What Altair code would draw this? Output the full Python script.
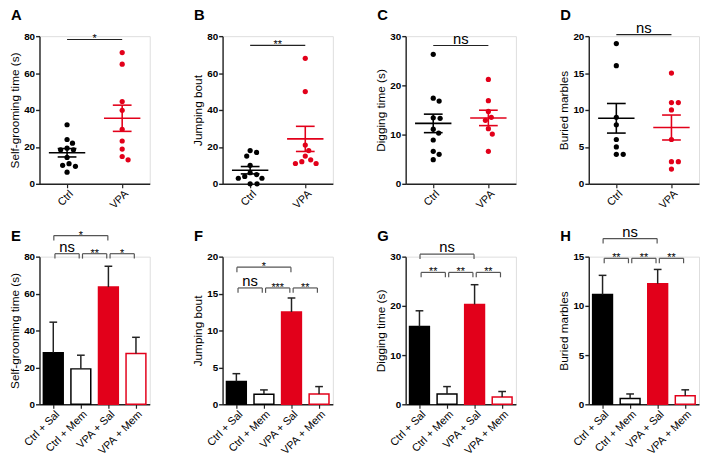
import json
import altair as alt
import pandas as pd

FONT = "Liberation Sans"
RED = "#E2001A"
INK = "#222222"
BRACKET = "#555555"

# ---------------- data ----------------
dot_groups = ["Ctrl", "VPA"]
bar_groups = ["Ctrl + Sal", "Ctrl + Mem", "VPA + Sal", "VPA + Mem"]

# A: self-grooming time (s)
a_ctrl = [32, 24, 22, 19.3, 18.4, 18.4, 14.3, 10.9, 10, 9.5, 6.3]
a_vpa = [71.1, 64.8, 44.6, 39.8, 29.5, 23.2, 18.8, 14.8, 13]
# B: jumping bout
b_ctrl = [18, 17, 15, 10, 6, 5, 4, 3, 3, 0, 0]
b_vpa = [68, 50, 21, 18, 15, 13, 12, 11, 11]
# C: digging time (s)
c_ctrl = [26.3, 17.4, 16.8, 13.4, 13.3, 11.1, 10.3, 8.9, 6.6, 6.0, 4.9]
c_vpa = [21.2, 16.9, 14.7, 13.5, 12.9, 11.2, 10.1, 6.6]
# D: buried marbles
d_ctrl = [19, 16, 9, 8, 6, 5, 4, 4]
d_vpa = [15, 11, 11, 10, 6, 3, 3, 2]

# E-H: mean and SEM per group
e_mean = [28.0, 19.2, 63.5, 27.5]
e_sem = [16.5, 7.4, 11.3, 8.8]
f_mean = [3.1, 1.35, 12.5, 1.4]
f_sem = [1.05, 0.6, 1.9, 1.0]
g_mean = [15.8, 2.1, 20.3, 1.5]
g_sem = [3.2, 1.5, 4.0, 1.1]
h_mean = [11.15, 0.6, 12.25, 0.87]
h_sem = [1.95, 0.45, 1.45, 0.6]

# significance labels: top bracket (0 vs 2), then 0-1, 1-2, 2-3
e_sig = ["*", "ns", "**", "*"]
f_sig = ["*", "ns", "***", "**"]
g_sig = ["ns", "**", "**", "**"]
h_sig = ["ns", "**", "**", "**"]
# bracket heights (upper, lower) in data units
e_bh = [91.4, 81.6]
f_bh = [18.57, 15.76]
g_bh = [30.5, 26.8]
h_bh = [16.84, 14.83]

# y tick values
ticks_80 = [0, 20, 40, 60, 80]
ticks_30 = [0, 10, 20, 30]
ticks_20 = [0, 5, 10, 15, 20]
ticks_15 = [0, 5, 10, 15]

PLOT_W = 112
PLOT_H = 150


def swarm(values, ymax, px_per_unit, diam=6.6):
    """Simple beeswarm layout: horizontal offsets (in x units) avoiding overlap."""
    py = [v * PLOT_H / ymax for v in values]
    order = sorted(range(len(values)), key=lambda k: -values[k])
    placed = []
    res = [0.0] * len(values)
    cands = sorted([c * 0.5 for c in range(-50, 51)], key=lambda c: (abs(c), -c))
    for k in order:
        chosen = 0.0
        for c in cands:
            if all((c - x) ** 2 + (py[k] - y) ** 2 >= diam ** 2 for x, y in placed):
                chosen = c
                break
        placed.append((chosen, py[k]))
        res[k] = chosen / px_per_unit
    return res


def y_axis(values, title):
    return alt.Axis(values=values, title=title, grid=False, domainColor=INK, domainWidth=1.4,
                    tickColor=INK, tickWidth=1.4, tickSize=4, labelFont=FONT, labelFontSize=10,
                    labelFontWeight="bold", labelColor="black", labelPadding=1,
                    titleFont=FONT, titleFontSize=12, titleFontWeight="normal",
                    titleColor="black", titlePadding=2)


def x_axis(names):
    return alt.Axis(values=list(range(len(names))),
                    labelExpr=json.dumps(names).replace('"', "'") + "[datum.value]",
                    title=None, grid=False, domainColor=INK, domainWidth=1.4, tickColor=INK,
                    tickWidth=1.2, tickSize=4, labelAngle=-45, labelAlign="right",
                    labelBaseline="top", labelFont=FONT, labelFontSize=11, labelOverlap=False,
                    labelColor="black", labelPadding=0)


def letter_layer(l):
    # panel letter, placed just outside the top-left corner of the plot area
    return alt.Chart(pd.DataFrame({"t": [l]})).mark_text(
        font=FONT, fontSize=15, fontWeight="bold", color="black", align="left",
        baseline="alphabetic").encode(x=alt.value(-29), y=alt.value(-16), text="t:N")


def dot_panel(l, ctrl, vpa, ymax, yticks, ytitle, sig, sig_y):
    pxu = PLOT_W / 2.0
    rows = []
    for gi, (g, vals) in enumerate(zip(dot_groups, [ctrl, vpa])):
        offs = swarm(vals, ymax, pxu)
        for v, o in zip(vals, offs):
            rows.append({"g": g, "i": gi, "v": v, "xp": gi + o})
    df = pd.DataFrame(rows)
    xs = alt.Scale(domain=[-0.5, 1.5], nice=False, zero=False)
    ys = alt.Scale(domain=[0, ymax], nice=False)
    xa = x_axis(dot_groups)
    ya = y_axis(yticks, ytitle)

    def X(f):
        return alt.X(f, scale=xs, axis=xa)

    def Y(f):
        return alt.Y(f, scale=ys, axis=ya)

    col = alt.Color("g:N", scale=alt.Scale(domain=dot_groups, range=["black", RED]), legend=None)
    base = alt.Chart(df)
    pts = base.mark_circle(size=28, opacity=1).encode(x=X("xp:Q"), y=Y("v:Q"), color=col)
    stats = base.transform_aggregate(m="mean(v)", s="stderr(v)", groupby=["g", "i"]).transform_calculate(
        lo="datum.m - datum.s", hi="datum.m + datum.s",
        a1="datum.i - 0.33", a2="datum.i + 0.33", c1="datum.i - 0.17", c2="datum.i + 0.17")
    mean_r = stats.mark_rule(strokeWidth=1.6).encode(x=X("a1:Q"), x2="a2:Q", y=Y("m:Q"), color=col)
    sem_r = stats.mark_rule(strokeWidth=1.6).encode(x=X("i:Q"), y=Y("lo:Q"), y2="hi:Q", color=col)
    cap_lo = stats.mark_rule(strokeWidth=1.6).encode(x=X("c1:Q"), x2="c2:Q", y=Y("lo:Q"), color=col)
    cap_hi = stats.mark_rule(strokeWidth=1.6).encode(x=X("c1:Q"), x2="c2:Q", y=Y("hi:Q"), color=col)
    sdf = pd.DataFrame({"x1": [0], "x2": [1], "xm": [0.5], "y": [sig_y], "t": [sig]})
    sbase = alt.Chart(sdf)
    sline = sbase.mark_rule(color=INK, strokeWidth=1.2).encode(x=X("x1:Q"), x2="x2:Q", y=Y("y:Q"))
    is_ns = sig == "ns"
    stext = sbase.mark_text(font=FONT, fontSize=15 if is_ns else 11, baseline="alphabetic",
                            dy=-2 if is_ns else 3, color="black").encode(
        x=X("xm:Q"), y=Y("y:Q"), text="t:N")
    return alt.layer(pts, mean_r, sem_r, cap_lo, cap_hi, sline, stext, letter_layer(l)).properties(
        width=PLOT_W, height=PLOT_H)


def bar_panel(l, means, sems, ymax, yticks, ytitle, sigs, bh):
    fills = ["black", "white", RED, "white"]
    strokes = ["black", "black", RED, RED]
    df = pd.DataFrame({"g": bar_groups, "i": list(range(4)), "m": means, "s": sems})
    xs = alt.Scale(domain=[-0.5, 3.5], nice=False, zero=False)
    ys = alt.Scale(domain=[0, ymax], nice=False)
    xa = x_axis(bar_groups)
    ya = y_axis(yticks, ytitle)

    def X(f):
        return alt.X(f, scale=xs, axis=xa)

    def Y(f):
        return alt.Y(f, scale=ys, axis=ya)

    base = alt.Chart(df).transform_calculate(
        b1="datum.i - 0.36", b2="datum.i + 0.36", hi="datum.m + datum.s",
        c1="datum.i - 0.14", c2="datum.i + 0.14")
    bars = base.mark_bar(strokeWidth=1.5).encode(
        x=X("b1:Q"), x2="b2:Q", y=Y("m:Q"), y2=alt.datum(0),
        fill=alt.Fill("g:N", scale=alt.Scale(domain=bar_groups, range=fills), legend=None),
        stroke=alt.Stroke("g:N", scale=alt.Scale(domain=bar_groups, range=strokes), legend=None))
    err = base.mark_rule(strokeWidth=1.5, color=INK).encode(x=X("i:Q"), y=Y("m:Q"), y2="hi:Q")
    cap = base.mark_rule(strokeWidth=1.5, color=INK).encode(x=X("c1:Q"), x2="c2:Q", y=Y("hi:Q"))
    pairs = [(0, 2), (0, 1), (1, 2), (2, 3)]
    brows = []
    for k, ((p, q), t) in enumerate(zip(pairs, sigs)):
        if k == 0:
            x1, x2, y = p + 0.02, q - 0.02, bh[0]
        else:
            x1, x2, y = p + 0.06, q - 0.06, bh[1]
        brows.append({"x1": x1, "x2": x2, "xm": (x1 + x2) / 2, "y": y, "t": t,
                      "ns": t == "ns"})
    bdf = pd.DataFrame(brows)
    bb = alt.Chart(bdf)
    hline = bb.mark_rule(color=BRACKET, strokeWidth=1.2).encode(x=X("x1:Q"), x2="x2:Q", y=Y("y:Q"))
    leg1 = bb.mark_rule(color=BRACKET, strokeWidth=1.2, y2Offset=5).encode(
        x=X("x1:Q"), y=Y("y:Q"), y2="y:Q")
    leg2 = bb.mark_rule(color=BRACKET, strokeWidth=1.2, y2Offset=5).encode(
        x=X("x2:Q"), y=Y("y:Q"), y2="y:Q")
    t_ns = bb.transform_filter("datum.ns").mark_text(
        font=FONT, fontSize=15, baseline="alphabetic", dy=-2, color="black").encode(
        x=X("xm:Q"), y=Y("y:Q"), text="t:N")
    t_st = bb.transform_filter("!datum.ns").mark_text(
        font=FONT, fontSize=11, baseline="alphabetic", dy=3, color="black").encode(
        x=X("xm:Q"), y=Y("y:Q"), text="t:N")
    return alt.layer(bars, err, cap, hline, leg1, leg2, t_ns, t_st, letter_layer(l)).properties(
        width=PLOT_W, height=PLOT_H)


panels = [
    dot_panel("A", a_ctrl, a_vpa, 80, ticks_80, "Self-grooming time (s)", "*", 78.2),
    dot_panel("B", b_ctrl, b_vpa, 80, ticks_80, "Jumping bout", "**", 75.0),
    dot_panel("C", c_ctrl, c_vpa, 30, ticks_30, "Digging time (s)", "ns", 28.1),
    dot_panel("D", d_ctrl, d_vpa, 20, ticks_20, "Buried marbles", "ns", 20.2),
    bar_panel("E", e_mean, e_sem, 80, ticks_80, "Self-grooming time (s)", e_sig, e_bh),
    bar_panel("F", f_mean, f_sem, 20, ticks_20, "Jumping bout", f_sig, f_bh),
    bar_panel("G", g_mean, g_sem, 30, ticks_30, "Digging time (s)", g_sig, g_bh),
    bar_panel("H", h_mean, h_sem, 15, ticks_15, "Buried marbles", h_sig, h_bh),
]

chart = alt.concat(*panels, columns=4, spacing=74, bounds="flush").properties(
    padding={"left": 0, "right": 0, "top": -4, "bottom": 0}
).configure_view(strokeWidth=0).configure(font=FONT, background="white")

chart.save("out.html", embed_options={"renderer": "svg", "actions": False})
